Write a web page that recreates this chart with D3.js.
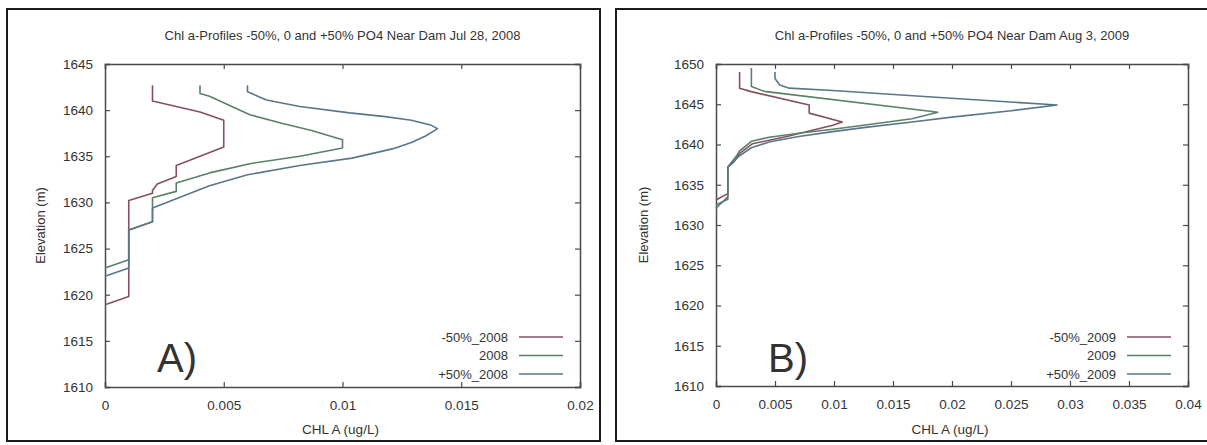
<!DOCTYPE html>
<html>
<head>
<meta charset="utf-8">
<script src="https://cdn.jsdelivr.net/npm/d3@7"></script>
<style>
  html, body { margin: 0; padding: 0; background: #fff; }
  svg { display: block; }
  text { font-family: "Liberation Sans", Arial, sans-serif; fill: #333; }
</style>
</head>
<body>
<svg id="chart" width="1207" height="445"></svg>
<script>
// ---------------- DATA ----------------
const titleA = "Chl a-Profiles -50%, 0 and +50% PO4 Near Dam Jul 28, 2008";
const titleB = "Chl a-Profiles -50%, 0 and +50% PO4 Near Dam Aug 3, 2009";
const xLabel = "CHL A (ug/L)";
const yLabel = "Elevation (m)";

const xTicksA = [0, 0.005, 0.01, 0.015, 0.02];
const xTickLabelsA = ["0", "0.005", "0.01", "0.015", "0.02"];
const yTicksA = [1610, 1615, 1620, 1625, 1630, 1635, 1640, 1645];

const xTicksB = [0, 0.005, 0.01, 0.015, 0.02, 0.025, 0.03, 0.035, 0.04];
const xTickLabelsB = ["0", "0.005", "0.01", "0.015", "0.02", "0.025", "0.03", "0.035", "0.04"];
const yTicksB = [1610, 1615, 1620, 1625, 1630, 1635, 1640, 1645, 1650];

const seriesNamesA = ["-50%_2008", "2008", "+50%_2008"];
const seriesNamesB = ["-50%_2009", "2009", "+50%_2009"];

// Panel A (2008): chlorophyll values and elevations
const neg50_2008_chl  = [0.002, 0.002, 0.004, 0.005, 0.005, 0.003, 0.003, 0.0022, 0.002, 0.002, 0.001, 0.001, 0];
const neg50_2008_elev = [1642.7, 1641, 1639.8, 1638.9, 1636, 1634, 1632.8, 1632, 1631.3, 1631, 1630.2, 1619.8, 1618.9];

const base_2008_chl  = [0.004, 0.004, 0.0044, 0.0061, 0.0074, 0.0087, 0.01, 0.01, 0.0082, 0.0061, 0.0044, 0.003, 0.003, 0.002, 0.002, 0.001, 0.001, 0];
const base_2008_elev = [1642.7, 1641.8, 1641.5, 1639.5, 1638.6, 1637.8, 1636.8, 1635.9, 1635, 1634.2, 1633.2, 1632.1, 1631.2, 1630.5, 1627.9, 1627, 1623.8, 1622.9];

const pos50_2008_chl  = [0.006, 0.006, 0.0068, 0.0082, 0.0103, 0.0118, 0.0129, 0.0137, 0.014, 0.0135, 0.0129, 0.0121, 0.0104, 0.0082, 0.006, 0.0044, 0.003, 0.002, 0.002, 0.001, 0.001, 0];
const pos50_2008_elev = [1642.7, 1642, 1641.1, 1640.4, 1639.7, 1639.3, 1638.9, 1638.4, 1638, 1637.2, 1636.5, 1635.8, 1634.8, 1634, 1633, 1631.8, 1630.4, 1629.4, 1627.9, 1627, 1622.9, 1622];

// Panel B (2009)
const neg50_2009_chl  = [0.002, 0.002, 0.0029, 0.0079, 0.0079, 0.0107, 0.0099, 0.006, 0.0031, 0.002, 0.0015, 0.001, 0.001, 0];
const neg50_2009_elev = [1649, 1647, 1646.6, 1644.9, 1643.9, 1642.8, 1642.4, 1641, 1640.1, 1638.9, 1637.8, 1637.2, 1633.9, 1633.1];

const base_2009_chl  = [0.003, 0.003, 0.0041, 0.0183, 0.0188, 0.0166, 0.0125, 0.0099, 0.007, 0.0045, 0.003, 0.002, 0.0017, 0.001, 0.001, 0];
const base_2009_elev = [1649.5, 1647.2, 1646.6, 1644.1, 1644, 1643.2, 1642.4, 1641.9, 1641.4, 1640.9, 1640.4, 1639.2, 1638.5, 1637.2, 1633.5, 1632.1];

const pos50_2009_chl  = [0.005, 0.005, 0.0054, 0.0062, 0.0099, 0.0183, 0.0289, 0.025, 0.02, 0.0166, 0.0125, 0.0099, 0.007, 0.0045, 0.003, 0.002, 0.001, 0.001, 0];
const pos50_2009_elev = [1649, 1648.2, 1647.4, 1647, 1646.7, 1645.9, 1644.9, 1644.2, 1643.4, 1642.8, 1642.1, 1641.6, 1641, 1640.3, 1639.6, 1638.6, 1637.2, 1633.2, 1632.5];

const seriesColors = ["#84505c", "#5a8068", "#5a7688"];

// ---------------- DRAW ----------------
const svg = d3.select("#chart");

function zip(xs, ys) { return xs.map((x, i) => ({ x: x, y: ys[i] })); }

function panel(cfg) {
  const g = svg.append("g");
  // outer frame
  g.append("rect")
    .attr("x", cfg.frame[0]).attr("y", cfg.frame[1])
    .attr("width", cfg.frame[2]).attr("height", cfg.frame[3])
    .attr("fill", "none").attr("stroke", "#1c1c1c").attr("stroke-width", 2);

  const x = d3.scaleLinear().domain(cfg.xDomain).range([cfg.left, cfg.right]);
  const y = d3.scaleLinear().domain(cfg.yDomain).range([cfg.bottom, cfg.top]);

  const fmt = (d) => cfg.xLabels[cfg.xTicks.indexOf(d)];

  const axB = g.append("g").attr("transform", `translate(0,${cfg.bottom})`)
    .call(d3.axisBottom(x).tickValues(cfg.xTicks).tickFormat(fmt).tickSize(-5).tickPadding(13));
  const axT = g.append("g").attr("transform", `translate(0,${cfg.top})`)
    .call(d3.axisTop(x).tickValues(cfg.xTicks).tickFormat("").tickSize(-5));
  const axL = g.append("g").attr("transform", `translate(${cfg.left},0)`)
    .call(d3.axisLeft(y).tickValues(cfg.yTicks).tickFormat(d3.format("d")).tickSize(-5).tickPadding(12));
  const axR = g.append("g").attr("transform", `translate(${cfg.right},0)`)
    .call(d3.axisRight(y).tickValues(cfg.yTicks).tickFormat("").tickSize(-5));

  [axB, axT, axL, axR].forEach(a => {
    a.select(".domain").attr("stroke", "#4a4a4a").attr("stroke-width", 1.5);
    a.selectAll(".tick line").attr("stroke", "#4a4a4a").attr("stroke-width", 1.2);
    a.selectAll("text").attr("font-size", "13.5px").attr("font-family", "Liberation Sans, Arial, sans-serif").attr("fill", "#333");
  });

  // title
  g.append("text").attr("x", (cfg.left + cfg.right) / 2).attr("y", 40)
    .attr("text-anchor", "middle").attr("font-size", "13px").text(cfg.title);
  // x label
  g.append("text").attr("x", (cfg.left + cfg.right) / 2 - 2).attr("y", 434)
    .attr("text-anchor", "middle").attr("font-size", "13.5px").text(xLabel);
  // y label
  g.append("text")
    .attr("transform", `translate(${cfg.yLabelX},${(cfg.top + cfg.bottom) / 2}) rotate(-90)`)
    .attr("text-anchor", "middle").attr("font-size", "13px").text(yLabel);

  // lines
  const line = d3.line().x(d => x(d.x)).y(d => y(d.y));
  cfg.series.forEach((s, i) => {
    g.append("path").datum(s).attr("d", line)
      .attr("fill", "none").attr("stroke", seriesColors[i])
      .attr("stroke-width", 1.6).attr("stroke-linejoin", "round");
  });

  // legend
  cfg.names.forEach((n, i) => {
    const ly = cfg.legendY + i * 18.5;
    g.append("text").attr("x", cfg.legendTextX).attr("y", ly + 4.5)
      .attr("text-anchor", "end").attr("font-size", "13px").text(n);
    g.append("line").attr("x1", cfg.legendTextX + 11).attr("x2", cfg.legendTextX + 55)
      .attr("y1", ly).attr("y2", ly)
      .attr("stroke", seriesColors[i]).attr("stroke-width", 1.4);
  });

  // panel letter
  g.append("text").attr("x", cfg.left + 52).attr("y", 372)
    .attr("font-size", "40px").attr("fill", "#111").text(cfg.letter);
}

panel({
  frame: [7, 9, 593, 432],
  left: 105, right: 580, top: 64, bottom: 387,
  xDomain: [0, 0.02], yDomain: [1610, 1645],
  xTicks: xTicksA, xLabels: xTickLabelsA, yTicks: yTicksA,
  title: titleA, yLabelX: 45,
  series: [zip(neg50_2008_chl, neg50_2008_elev), zip(base_2008_chl, base_2008_elev), zip(pos50_2008_chl, pos50_2008_elev)],
  names: seriesNamesA, legendTextX: 508, legendY: 337,
  letter: "A)"
});

panel({
  frame: [616, 9, 600, 432],
  left: 716, right: 1188, top: 64, bottom: 386,
  xDomain: [0, 0.04], yDomain: [1610, 1650],
  xTicks: xTicksB, xLabels: xTickLabelsB, yTicks: yTicksB,
  title: titleB, yLabelX: 648,
  series: [zip(neg50_2009_chl, neg50_2009_elev), zip(base_2009_chl, base_2009_elev), zip(pos50_2009_chl, pos50_2009_elev)],
  names: seriesNamesB, legendTextX: 1116, legendY: 337,
  letter: "B)"
});
</script>
</body>
</html>
